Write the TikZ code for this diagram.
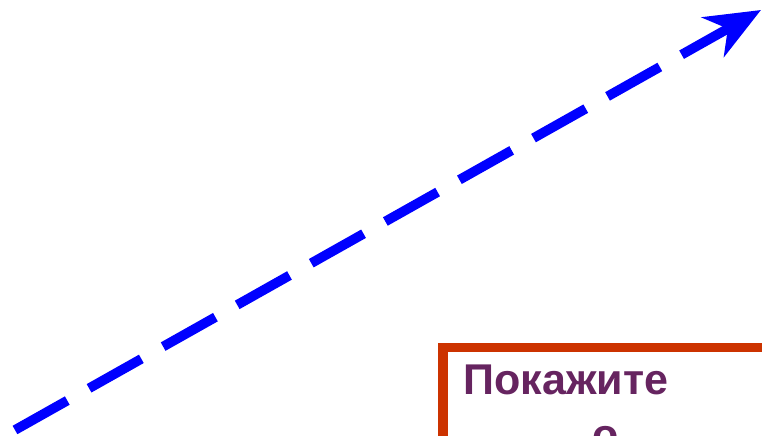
\documentclass[tikz,border=0pt]{standalone}
\usepackage{fontspec}
\setmainfont{Liberation Sans}
\usetikzlibrary{arrows.meta}
\definecolor{dashblue}{RGB}{0,0,255}
\definecolor{boxred}{RGB}{204,51,0}
\definecolor{textpurple}{RGB}{102,36,96}
\begin{document}
\begin{tikzpicture}[>={Stealth[length=1.1cm, width=0.9cm, inset=0.34cm]},
  every node/.style={inner sep=0pt, anchor=base west, text=textpurple, font=\fontsize{24.5}{30}\selectfont\bfseries},
  dasharrow/.style={draw=dashblue, line width=5.5pt, dash pattern=on 1.2cm off 0.5cm},
  framebox/.style={draw=boxred, line width=5.5pt, fill=white}]
\useasboundingbox (0,0) rectangle (15.24,8.72);
\clip (0,0) rectangle (15.24,8.72);
\coordinate (start) at (0.30,0.12);
\coordinate (tip) at (15.22,8.52);
\draw[dasharrow, ->] (start) -- (tip);
\draw[framebox] (8.86,1.77) rectangle (16,-1);
\node (title) at (9.26,0.82) {Покажите};
\node (next) at (11.84,-0.28) {о};
\end{tikzpicture}
\end{document}
